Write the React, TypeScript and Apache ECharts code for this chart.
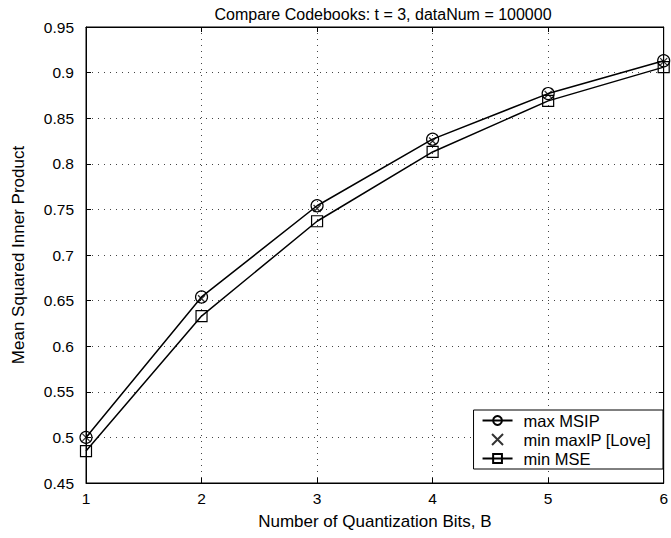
import React, { useEffect, useRef } from "react";
import * as echarts from "echarts";

const bits = [1, 2, 3, 4, 5, 6];
const maxMSIP = [0.5, 0.654, 0.754, 0.827, 0.877, 0.913];
const minMaxIPLove = [0.5, 0.652, 0.751, 0.825, 0.876, 0.912];
const minMSE = [0.485, 0.633, 0.737, 0.813, 0.869, 0.906];

const FONT = "Liberation Sans, Arial, sans-serif";
const CROSS = "path://M0,0 L10,10 M10,0 L0,10";

export default function App() {
  const ref = useRef<HTMLDivElement>(null);
  useEffect(() => {
    if (!ref.current) return;
    const chart = echarts.init(ref.current, undefined, { renderer: "svg" });
    const fmt = (v: number) => String(parseFloat(v.toFixed(2)));
    const pair = (arr: number[]) => bits.map((b, i) => [b, arr[i]]);
    chart.setOption({
      animation: false,
      backgroundColor: "#fff",
      title: {
        text: "Compare Codebooks: t = 3, dataNum = 100000",
        left: 378,
        top: 1,
        textAlign: "center",
        textStyle: { fontFamily: FONT, fontSize: 16, fontWeight: "normal", color: "#000" },
      },
      grid: {
        left: 86,
        right: 6,
        top: 27,
        bottom: 55,
        show: true,
        borderColor: "#000",
        borderWidth: 1,
      },
      legend: {
        right: 8,
        top: 410,
        orient: "vertical",
        backgroundColor: "#fff",
        borderColor: "#000",
        borderWidth: 1,
        borderRadius: 0,
        padding: [2, 12, 2, 8],
        itemGap: 2,
        itemWidth: 30,
        itemHeight: 11,
        textStyle: { fontFamily: FONT, fontSize: 16.5, color: "#000", padding: [0, 0, 0, 6] },
        data: ["max MSIP", "min maxIP [Love]", "min MSE"],
      },
      xAxis: [
        {
          type: "value",
          min: 1,
          max: 6,
          interval: 1,
          name: "Number of Quantization Bits, B",
          nameLocation: "middle",
          nameGap: 30,
          nameTextStyle: { fontFamily: FONT, fontSize: 17, color: "#000" },
          axisLine: { show: true, lineStyle: { color: "#000" } },
          axisTick: { show: true, inside: true, length: 5, lineStyle: { color: "#000" } },
          axisLabel: { fontFamily: FONT, fontSize: 15.5, color: "#000", margin: 7 },
          splitLine: { show: true, lineStyle: { type: [1, 5], color: "#444", width: 1 } },
        },
        {
          type: "value",
          position: "top",
          min: 1,
          max: 6,
          interval: 1,
          axisLine: { show: true, lineStyle: { color: "#000" } },
          axisTick: { show: true, inside: true, length: 5, lineStyle: { color: "#000" } },
          axisLabel: { show: false },
          splitLine: { show: false },
        },
      ],
      yAxis: [
        {
          type: "value",
          min: 0.45,
          max: 0.95,
          interval: 0.05,
          name: "Mean Squared Inner Product",
          nameLocation: "middle",
          nameGap: 59,
          nameTextStyle: { fontFamily: FONT, fontSize: 17, color: "#000" },
          axisLine: { show: true, lineStyle: { color: "#000" } },
          axisTick: { show: true, inside: true, length: 5, lineStyle: { color: "#000" } },
          axisLabel: { fontFamily: FONT, fontSize: 15.5, color: "#000", margin: 12, formatter: fmt },
          splitLine: { show: true, lineStyle: { type: [1, 5], color: "#444", width: 1 } },
        },
        {
          type: "value",
          position: "right",
          min: 0.45,
          max: 0.95,
          interval: 0.05,
          axisLine: { show: true, lineStyle: { color: "#000" } },
          axisTick: { show: true, inside: true, length: 5, lineStyle: { color: "#000" } },
          axisLabel: { show: false },
          splitLine: { show: false },
        },
      ],
      series: [
        {
          name: "max MSIP",
          type: "line",
          data: pair(maxMSIP),
          symbol: "circle",
          symbolSize: 12,
          lineStyle: { color: "#000", width: 1.5 },
          itemStyle: { color: "transparent", borderColor: "#000", borderWidth: 1.2 },
          z: 3,
        },
        {
          name: "min maxIP [Love]",
          type: "scatter",
          data: pair(minMaxIPLove),
          symbol: CROSS,
          symbolSize: 7,
          itemStyle: { color: "transparent", borderColor: "#000", borderWidth: 1.3 },
          z: 4,
        },
        {
          name: "min MSE",
          type: "line",
          data: pair(minMSE),
          symbol: "rect",
          symbolSize: 11,
          lineStyle: { color: "#000", width: 1.5 },
          itemStyle: { color: "transparent", borderColor: "#000", borderWidth: 1.2 },
          z: 3,
        },
      ],
    });
    return () => chart.dispose();
  }, []);
  return <div ref={ref} style={{ width: 671, height: 538, position: "absolute", left: 0, top: 0 }} />;
}
